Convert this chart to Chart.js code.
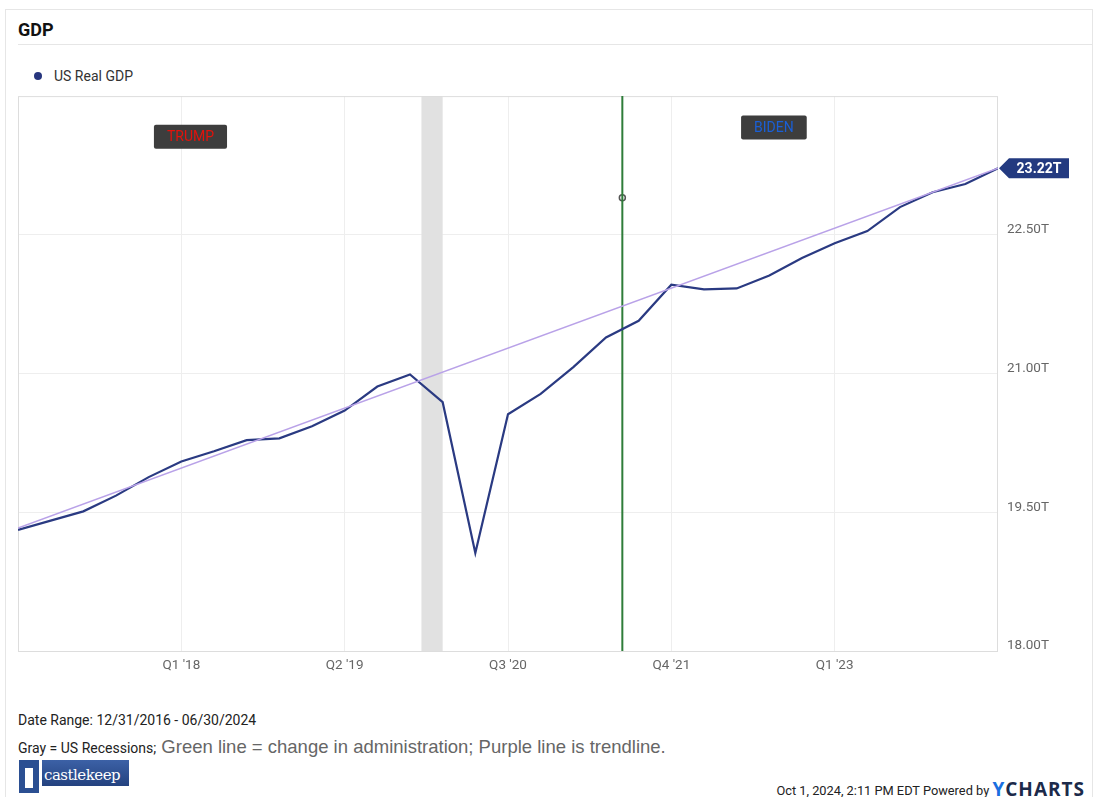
<!DOCTYPE html>
<html>
<head>
<meta charset="utf-8">
<script src="https://cdn.jsdelivr.net/npm/chart.js@4"></script>
<style>
  body { margin: 0; background: #fff; font-family: Roboto, sans-serif; }
  #page { position: relative; width: 1099px; height: 797px; overflow: hidden; }
  #card { position: absolute; left: 5px; top: 9px; width: 1088px; height: 800px; border: 1px solid #e6e6e6; box-sizing: border-box; }
  #title { position: absolute; left: 18px; top: 19px; font-size: 18px; font-weight: bold; color: #111; }
  #sep { position: absolute; left: 18px; top: 44px; width: 1075px; height: 1px; background: #e6e6e6; }
  #legend { position: absolute; left: 34px; top: 68px; font-size: 14px; color: #333; }
  #legend .dot { display: inline-block; width: 8px; height: 8px; border-radius: 50%; background: #27367e; margin-right: 12px; vertical-align: 1px; }
  #chart { position: absolute; left: 0; top: 79px; }
  #range { position: absolute; left: 18px; top: 712px; font-size: 14px; color: #222; }
  #note { position: absolute; left: 18px; top: 736px; font-size: 14px; color: #222; }
  #note span { font-family: "Liberation Sans", Arial, sans-serif; font-size: 18.5px; color: #666; }
  #logo { position: absolute; left: 19px; top: 760px; height: 33px; width: 110px; }
  #logo .tower { position: absolute; left: 0; top: 0; width: 20px; height: 33px; background: #2b4f92; }
  #logo .tower i { position: absolute; left: 6px; top: 8px; width: 8px; height: 20px; background: #fff; }
  #logo .name { position: absolute; left: 23px; top: 0; width: 87px; height: 26px; background: linear-gradient(#3c61a6, #24427f); color: #fff; font-family: "DejaVu Serif", serif; font-size: 15px; line-height: 30px; padding-left: 2px; box-sizing: border-box; letter-spacing: -0.5px; }
  #footer { position: absolute; right: 14px; top: 776px; font-size: 12.8px; color: #222; }
  #footer b { font-family: "Open Sans", sans-serif; font-size: 19px; letter-spacing: 1px; color: #1c2a4a; vertical-align: -1px; }
  #footer b em { font-style: normal; color: #1a6fe0; }
</style>
</head>
<body>
<div id="page">
  <div id="card"></div>
  <div id="title">GDP</div>
  <div id="sep"></div>
  <div id="legend"><span class="dot"></span>US Real GDP</div>
  <canvas id="chart" width="1099" height="600"></canvas>
  <div id="range">Date Range: 12/31/2016 - 06/30/2024</div>
  <div id="note">Gray = US Recessions;<span> Green line = change in administration; Purple line is trendline.</span></div>
  <div id="logo"><div class="tower"><i></i></div><div class="name">castlekeep</div></div>
  <div id="footer">Oct 1, 2024, 2:11 PM EDT Powered by <b><em>Y</em>CHARTS</b></div>
</div>
<script>
// Trimestres (índice 0 = 12/31/2016)
const quarters = ['Q4 2016', 'Q1 2017', 'Q2 2017', 'Q3 2017', 'Q4 2017', 'Q1 2018', 'Q2 2018', 'Q3 2018',
  'Q4 2018', 'Q1 2019', 'Q2 2019', 'Q3 2019', 'Q4 2019', 'Q1 2020', 'Q2 2020', 'Q3 2020', 'Q4 2020',
  'Q1 2021', 'Q2 2021', 'Q3 2021', 'Q4 2021', 'Q1 2022', 'Q2 2022', 'Q3 2022', 'Q4 2022', 'Q1 2023',
  'Q2 2023', 'Q3 2023', 'Q4 2023', 'Q1 2024', 'Q2 2024'];
// US Real GDP, trilhões
const gdp = [19.31, 19.41, 19.51, 19.68, 19.88, 20.05, 20.16, 20.28, 20.30, 20.43, 20.60, 20.86, 20.99,
  20.69, 19.06, 20.56, 20.78, 21.07, 21.39, 21.57, 21.96, 21.91, 21.92, 22.06, 22.25, 22.41, 22.54,
  22.80, 22.96, 23.05, 23.22];
const trend = [19.33, 23.22]; // início e fim da linha de tendência
const xTickIndex = [5, 10, 15, 20, 25];
const xTickLabels = ["Q1 '18", "Q2 '19", "Q3 '20", "Q4 '21", "Q1 '23"];
const yTicks = [18, 19.5, 21, 22.5];
const yMin = 18, yMax = 24;
const recession = [12.35, 13.0];
const adminChange = 18.5;
const adminMarker = 22.9;
const tags = [
  { text: 'TRUMP', x: 5.28, y: 23.56, color: '#e3120b' },
  { text: 'BIDEN', x: 23.14, y: 23.66, color: '#1a5fd6' },
];

const navy = '#2a3a82';

const extras = {
  id: 'extras',
  beforeDatasetsDraw(chart) {
    const { ctx, chartArea: a, scales: { x } } = chart;
    ctx.save();
    ctx.fillStyle = '#e1e1e1';
    const x1 = x.getPixelForValue(recession[0]);
    const x2 = x.getPixelForValue(recession[1]);
    ctx.fillRect(x1, a.top, x2 - x1, a.bottom - a.top);
    ctx.strokeStyle = '#dddddd';
    ctx.lineWidth = 1;
    ctx.strokeRect(a.left + 0.5, a.top + 0.5, a.right - a.left - 1, a.bottom - a.top);
    ctx.restore();
  },
  afterDatasetsDraw(chart) {
    const { ctx, scales: { x, y } } = chart;
    ctx.save();
    ctx.font = '14px Roboto';
    ctx.textAlign = 'center';
    ctx.textBaseline = 'middle';
    tags.forEach((t) => {
      const cx = x.getPixelForValue(t.x);
      const cy = y.getPixelForValue(t.y);
      const w = ctx.measureText(t.text).width + 26;
      const h = 24;
      ctx.fillStyle = '#3d3d3d';
      ctx.beginPath();
      ctx.roundRect(cx - w / 2, cy - h / 2, w, h, 2);
      ctx.fill();
      ctx.fillStyle = t.color;
      ctx.fillText(t.text, cx, cy + 1);
    });

    // etiqueta do último valor
    const last = gdp.length - 1;
    const px = x.getPixelForValue(last) + 1;
    const py = y.getPixelForValue(gdp[last]);
    ctx.fillStyle = '#233a80';
    ctx.beginPath();
    ctx.moveTo(px, py);
    ctx.lineTo(px + 10, py - 10);
    ctx.lineTo(px + 70, py - 10);
    ctx.lineTo(px + 70, py + 10);
    ctx.lineTo(px + 10, py + 10);
    ctx.closePath();
    ctx.fill();
    ctx.fillStyle = '#fff';
    ctx.font = 'bold 14px Roboto';
    ctx.fillText(gdp[last].toFixed(2) + 'T', px + 40, py + 1);
    ctx.restore();
  },
};

new Chart(document.getElementById('chart'), {
  type: 'line',
  data: {
    datasets: [
      {
        data: [{ x: 0, y: trend[0] }, { x: gdp.length - 1, y: trend[1] }],
        borderColor: '#b9a2e8',
        borderWidth: 1.6,
        pointRadius: 0,
      },
      {
        label: 'US Real GDP',
        data: gdp.map((v, i) => ({ x: i, y: v })),
        borderColor: navy,
        borderWidth: 2.2,
        pointRadius: 0,
        tension: 0,
      },
      {
        data: [{ x: adminChange, y: yMin }, { x: adminChange, y: yMax }],
        borderColor: '#2f7d3a',
        borderWidth: 2,
        pointRadius: 0,
      },
      {
        data: [{ x: adminChange, y: adminMarker }],
        showLine: false,
        pointRadius: 3,
        pointBackgroundColor: '#fff',
        pointBorderColor: '#555',
        pointBorderWidth: 1.5,
      },
    ],
  },
  options: {
    responsive: false,
    animation: false,
    devicePixelRatio: 1,
    layout: { padding: { left: 18, top: 3, right: 0, bottom: 0 } },
    plugins: { legend: { display: false }, tooltip: { enabled: false } },
    scales: {
      x: {
        type: 'linear',
        min: 0,
        max: gdp.length - 1,
        afterBuildTicks: (s) => { s.ticks = xTickIndex.map((v) => ({ value: v })); },
        afterFit: (s) => { s.height = 28; },
        grid: { color: '#eeeeee', drawTicks: false },
        border: { display: false },
        ticks: {
          padding: 7,
          color: '#666',
          font: { family: 'Roboto', size: 13.5 },
          maxRotation: 0,
          callback: (v) => xTickLabels[xTickIndex.indexOf(v)],
        },
      },
      y: {
        position: 'right',
        min: yMin,
        max: yMax,
        afterBuildTicks: (s) => { s.ticks = yTicks.map((v) => ({ value: v })); },
        afterFit: (s) => { s.width = 101; },
        grid: { color: '#eeeeee', drawTicks: false },
        border: { display: false },
        ticks: {
          padding: 9,
          labelOffset: -5,
          color: '#666',
          font: { family: 'Roboto', size: 13.5 },
          callback: (v) => v.toFixed(2) + 'T',
        },
      },
    },
  },
  plugins: [extras],
});
</script>
</body>
</html>
